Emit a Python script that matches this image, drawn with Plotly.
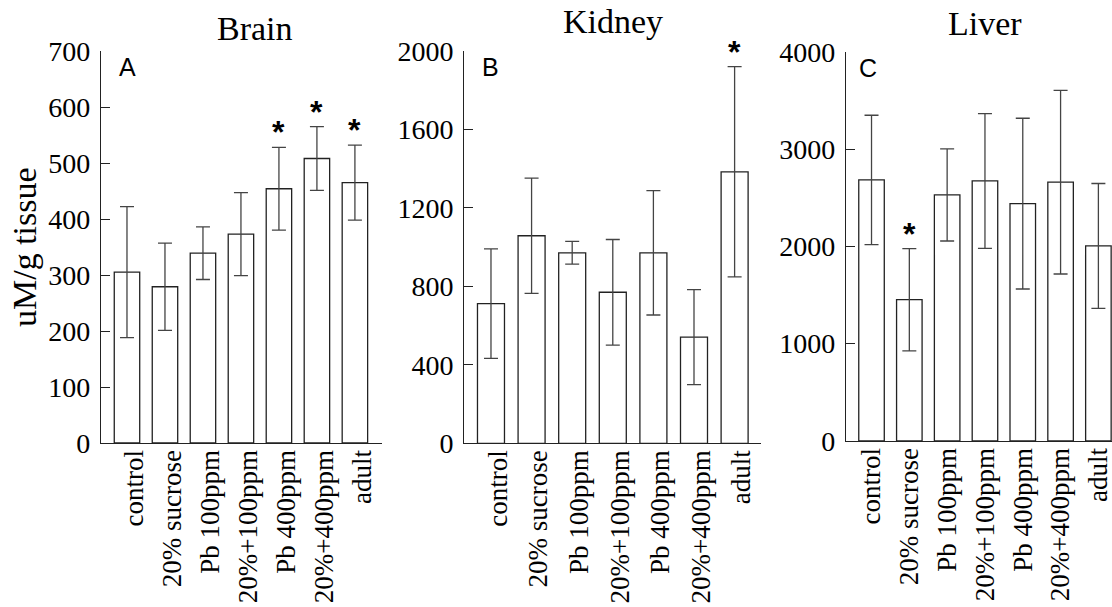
import plotly.graph_objects as go

categories = ["control", "20% sucrose", "Pb 100ppm", "20%+100ppm", "Pb 400ppm", "20%+400ppm", "adult"]

brain_mean = [305, 279, 339, 373, 454, 508, 465]
brain_err = [117, 78, 47, 74, 74, 57, 67]
brain_sig = [4, 5, 6]

kidney_mean = [712, 1058, 971, 770, 971, 541, 1384]
kidney_err = [279, 294, 58, 269, 317, 242, 536]
kidney_sig = [6]

liver_mean = [2682, 1452, 2528, 2672, 2439, 2659, 2004]
liver_err = [665, 525, 473, 692, 877, 943, 642]
liver_sig = [1]

titles = ["Brain", "Kidney", "Liver"]
letters = ["A", "B", "C"]
y_ranges = [[0, 700], [0, 2000], [0, 4000]]
y_ticks = [[0, 100, 200, 300, 400, 500, 600, 700],
           [0, 400, 800, 1200, 1600, 2000],
           [0, 1000, 2000, 3000, 4000]]

W, H = 1112, 607
SERIF = "Liberation Serif"
SANS = "Liberation Sans"

panels = [
    dict(x0=101, x1=381.5, ytop=51, ybot=443, xr=[-0.684, 6.70], bw=0.67, shift=7),
    dict(x0=464.3, x1=761, ytop=51, ybot=443.3, xr=[-0.657, 6.65], bw=0.665, shift=7),
    dict(x0=846, x1=1112, ytop=51.7, ybot=441, xr=[-0.675, 6.36], bw=0.675, shift=0),
]

means = [brain_mean, kidney_mean, liver_mean]
errs = [brain_err, kidney_err, liver_err]
sigs = [brain_sig, kidney_sig, liver_sig]

fig = go.Figure()
xs = list(range(len(categories)))

annotations = []
for i in range(3):
    ax = "" if i == 0 else str(i + 1)
    p = panels[i]
    fig.add_trace(go.Bar(
        x=xs, y=means[i], width=p["bw"],
        marker=dict(color="white", line=dict(color="#222222", width=1.3)),
        error_y=dict(type="data", array=errs[i], visible=True, color="#444444",
                     thickness=1.3, width=7),
        xaxis="x" + ax, yaxis="y" + ax, showlegend=False,
    ))
    xdom = [p["x0"] / W, min(p["x1"] / W, 1.0)]
    ydom = [(H - p["ybot"]) / H, (H - p["ytop"]) / H]
    fig.update_layout(**{
        "xaxis" + ax: dict(
            domain=xdom, range=p["xr"], anchor="y" + ax, automargin=False,
            tickvals=xs, ticktext=categories, tickangle=-90,
            showline=True, linecolor="#222222", linewidth=1.3,
            ticks="", showgrid=False, zeroline=False,
            ticklabelstandoff=-5, ticklabelshift=p["shift"], ticklabeloverflow="allow",
            tickfont=dict(family=SERIF, size=27, color="black"),
            fixedrange=True,
        ),
        "yaxis" + ax: dict(
            domain=ydom, range=y_ranges[i], anchor="x" + ax, automargin=False,
            tickvals=y_ticks[i], showline=True, linecolor="#222222", linewidth=1.3,
            ticks="inside", ticklen=9, tickcolor="#222222", tickwidth=1.3,
            showgrid=False, zeroline=False, ticklabelstandoff=4,
            ticklabeloverflow="allow",
            tickfont=dict(family=SERIF, size=28, color="black"),
            fixedrange=True,
        ),
    })
    annotations.append(dict(
        text=titles[i], xref="paper", yref="paper",
        x=[254.7, 613, 984.5][i] / W, y=1 - [42, 35, 37][i] / H,
        xanchor="center", yanchor="bottom", showarrow=False, yshift=-7,
        font=dict(family=SERIF, size=34, color="black"),
    ))
    annotations.append(dict(
        text=letters[i], xref="paper", yref="paper",
        x=[127, 490, 868][i] / W, y=1 - [67, 67, 68][i] / H,
        xanchor="center", yanchor="middle", showarrow=False,
        font=dict(family=SANS, size=25, color="black"),
    ))
    for k in sigs[i]:
        annotations.append(dict(
            text="<b>*</b>", xref="x" + ax, yref="y" + ax,
            x=k, y=means[i][k] + errs[i][k],
            xanchor="center", yanchor="middle", showarrow=False, yshift=15,
            font=dict(family=SANS, size=32, color="black"),
        ))

annotations.append(dict(
    text="uM/g tissue", xref="paper", yref="paper",
    x=25 / W, y=1 - 247 / H, textangle=-90,
    xanchor="center", yanchor="middle", showarrow=False,
    font=dict(family=SERIF, size=34, color="black"),
))

fig.update_layout(
    width=W, height=H,
    margin=dict(l=0, r=0, t=0, b=0, autoexpand=False),
    paper_bgcolor="white", plot_bgcolor="white",
    annotations=annotations,
    bargap=0.3,
)

fig.write_html("out.html")
